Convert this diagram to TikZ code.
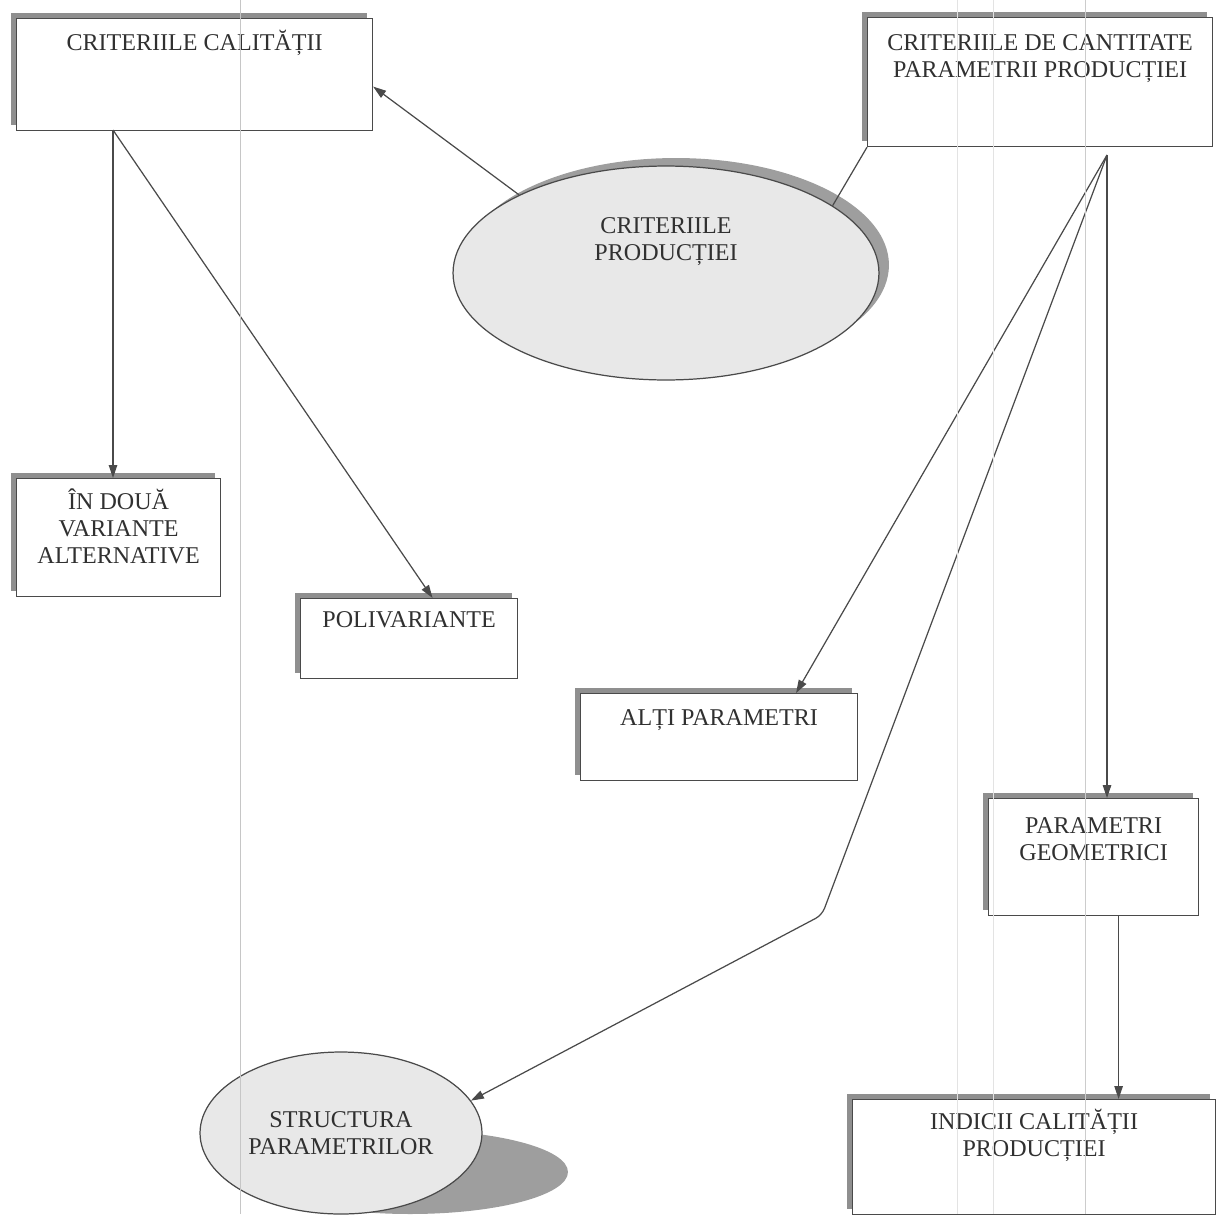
\documentclass[tikz,border=0pt]{standalone}
\usepackage{fontspec}
\setmainfont{Liberation Serif}
\usetikzlibrary{positioning,shapes.geometric,arrows.meta,shadows}
\definecolor{inkgray}{HTML}{303030}
\definecolor{framegray}{HTML}{4A4A4A}
\definecolor{shadegray}{HTML}{8F8F8F}
\definecolor{ovalshade}{HTML}{9E9E9E}
\definecolor{ovalfill}{HTML}{E8E8E8}
\tikzset{box node/.style={draw=framegray,line width=0.7pt,fill=white,inner sep=0pt,anchor=north west,
    drop shadow={shadow xshift=-0.12cm,shadow yshift=0.12cm,fill=shadegray,opacity=1}},
  oval node/.style={ellipse,draw=framegray,line width=0.7pt,fill=ovalfill,inner sep=0pt},
  lbl/.style={align=center,text=inkgray,font=\fontsize{13.7}{15.5}\selectfont,inner sep=0pt},
  link/.style={draw=framegray,line width=0.7pt},
  arrow/.style={link,-{Triangle[length=0.26cm,width=0.17cm]}},
  scan line/.style={line width=0.5pt},
}

\begin{document}
\begin{tikzpicture}[x=0.02cm,y=-0.02cm]
\useasboundingbox (0,0) rectangle (1217,1214);

%% quality side
\node[box node, minimum width=7.12cm, minimum height=2.24cm] (calit) at (16,18) {};
\node[lbl] (calittxt) at ([yshift=-0.5cm]calit.north) {CRITERIILE CALITĂȚII};
\node[box node, minimum width=4.08cm, minimum height=2.36cm] (doua) at (16,478) {};
\node[lbl] (douatxt) at ([yshift=-0.97cm]doua.north) {ÎN DOUĂ\\VARIANTE\\ALTERNATIVE};
\node[box node, minimum width=4.34cm, minimum height=1.6cm] (poliv) at (300,598) {};
\node[lbl] (polivtxt) at ([yshift=-0.44cm]poliv.north) {POLIVARIANTE};

%% quantity side
\node[box node, minimum width=6.9cm, minimum height=2.58cm] (cantit) at (867,17) {};
\node[lbl] (cantittxt) at ([yshift=-0.83cm]cantit.north) {CRITERIILE DE CANTITATE\\PARAMETRII PRODUCȚIEI};
\node[box node, minimum width=5.54cm, minimum height=1.74cm] (alti) at (580,693) {};
\node[lbl] (altitxt) at ([yshift=-0.54cm]alti.north) {ALȚI PARAMETRI};
\node[box node, minimum width=4.2cm, minimum height=2.34cm] (geom) at (988,798) {};
\node[lbl] (geomtxt) at ([yshift=-0.82cm]geom.north) {PARAMETRI\\GEOMETRICI};
\node[box node, minimum width=7.26cm, minimum height=2.3cm] (indici) at (852,1099) {};
\node[lbl] (indicitxt) at ([yshift=-0.73cm]indici.north) {INDICII CALITĂȚII\\PRODUCȚIEI};

%% ovals
\node[oval node, minimum width=8.52cm, minimum height=4.28cm,
  drop shadow={shadow xshift=0.2cm,shadow yshift=0.16cm,fill=ovalshade,opacity=1}] (prod) at (666,273) {};
\node[lbl] (prodtxt) at ([yshift=0.63cm]prod.center) {CRITERIILE\\PRODUCȚIEI};
\fill[ovalshade] (410,1172) ellipse [x radius=3.16cm, y radius=0.84cm];
\node[oval node, lbl, minimum width=5.64cm, minimum height=3.24cm] (struct) at (341,1133) {STRUCTURA\\PARAMETRILOR};

\coordinate (qualhub) at (113,130);
\coordinate (quanthub) at (1107,155);
\coordinate (knee) at (822,915);

\draw[arrow] (qualhub) -- (qualhub |- doua.north);
\draw[arrow] (qualhub) -- ([xshift=0.47cm]poliv.north);
\draw[arrow] (prod.152) -- ([yshift=-0.24cm]calit.east);
\draw[link] (prod.22) -- (cantit.south west);
\draw[arrow] (quanthub) -- ([xshift=1.54cm]alti.north);
\draw[arrow] (quanthub) -- (quanthub |- geom.north);
\draw[arrow, rounded corners=4pt] (quanthub) -- (knee) -- (struct.14);
\draw[arrow] ([xshift=0.5cm]geom.south) -- ([xshift=0.5cm]geom.south |- indici.north);

%% faint page rulings
\foreach \xx/\tone in {240/45,1085/40,957/22,993/22}
  \draw[scan line, draw=gray!\tone] (\xx,0) -- (\xx,1214);
\end{tikzpicture}
\end{document}
